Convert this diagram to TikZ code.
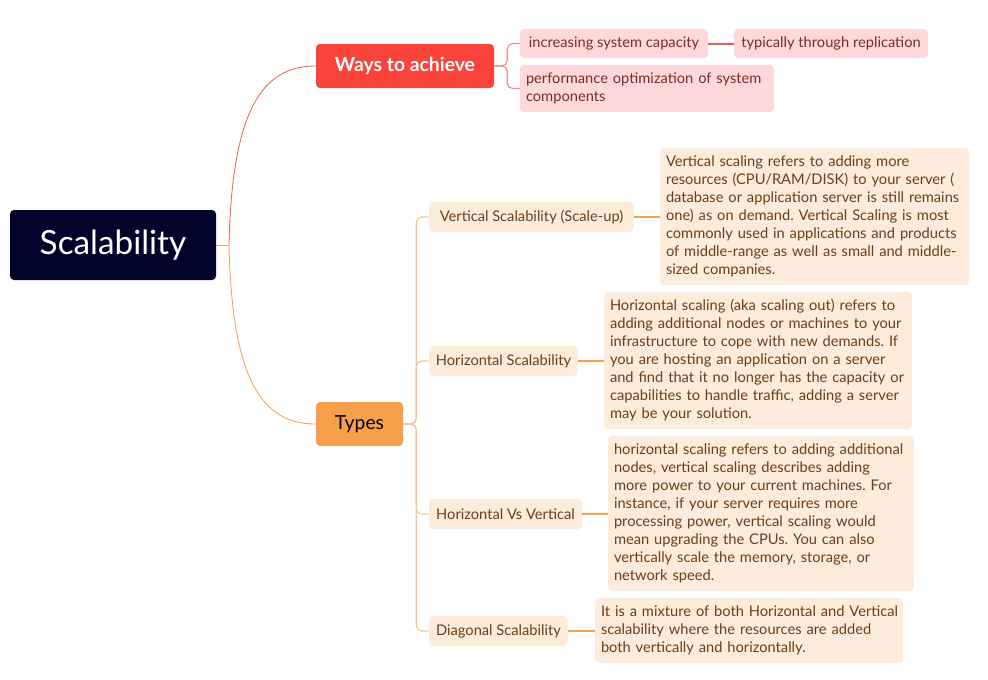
\documentclass[tikz,border=0pt]{standalone}
\usepackage{fontspec}
\setmainfont{Lato}
\usetikzlibrary{positioning}
\frenchspacing
\definecolor{scalNavy}{HTML}{02032B}
\definecolor{waysRed}{HTML}{F9433B}
\definecolor{typesOrange}{HTML}{F6A04B}
\definecolor{leafPink}{HTML}{FFD9D9}
\definecolor{pinkText}{HTML}{7A2B2B}
\definecolor{leafPeach}{HTML}{FDEBDC}
\definecolor{peachText}{HTML}{6B3F17}
\definecolor{redLine}{HTML}{F25B55}
\definecolor{orangeLine}{HTML}{F6A04B}
\definecolor{paleOrange}{HTML}{F9C48F}
\definecolor{paleRed}{HTML}{F58A86}
\tikzset{
    box/.style={rounded corners=3pt, inner sep=0pt, align=center},
    rootbox/.style={box, fill=scalNavy, text=white, font=\fontsize{25}{30}\selectfont},
    waysbox/.style={box, fill=waysRed, text=white, font=\fontsize{14.5}{17}\selectfont\bfseries},
    typebox/.style={box, fill=typesOrange, text=black, font=\fontsize{14.5}{17}\selectfont},
    pinkleaf/.style={box, fill=leafPink, text=pinkText, font=\fontsize{11}{13.5}\selectfont},
    peachleaf/.style={box, fill=leafPeach, text=peachText, font=\fontsize{11}{13.5}\selectfont},
    notebox/.style={peachleaf, align=left, inner xsep=4.5pt},
    redcurve/.style={draw=redLine, line width=0.6pt},
    orangecurve/.style={draw=orangeLine, line width=0.6pt},
    redbranch/.style={draw=paleRed, line width=0.8pt, rounded corners=4pt},
    orangebranch/.style={draw=paleOrange, line width=0.8pt, rounded corners=4pt},
    redlink/.style={draw=redLine, line width=1.5pt},
    orangelink/.style={draw=orangeLine, line width=1.5pt}
}
% name, x, y, width, height, text width, lines
\newcommand{\noteNode}[7]{%
    \node[notebox, minimum width=#4pt, minimum height=#5pt, text width=#6pt] (#1) at (#2,#3) {\begin{tabular}{@{}l@{}}#7\end{tabular}};
}

\begin{document}
\begin{tikzpicture}[x=0.75pt,y=-0.75pt]
    \useasboundingbox (0,0) rectangle (988,679);
    %topics
    \node[rootbox, minimum width=154.5pt, minimum height=52.5pt] (scal) at (113,245) {Scalability};
    \node[waysbox, minimum width=133.5pt, minimum height=33pt] (ways) at (405,66) {Ways to achieve};
    \node[typebox, minimum width=65.25pt, minimum height=33pt] (types) at (359.5,424) {Types};
    %ways
    \node[pinkleaf, minimum width=141pt, minimum height=21.75pt] (incr) at (614,43.5) {increasing system capacity};
    \node[pinkleaf, minimum width=145.5pt, minimum height=21.75pt] (repl) at (831,43.5) {typically through replication};
    \node[pinkleaf, align=left, inner xsep=4.5pt, minimum width=190.5pt, minimum height=35.25pt, text width=181.5pt] (perf) at (647,88.5) {performance optimization of system\\components};
    %types
    \node[peachleaf, minimum width=153.75pt, minimum height=22.5pt] (vert) at (531.5,217) {Vertical Scalability (Scale-up)};
    \node[peachleaf, minimum width=111.75pt, minimum height=22.5pt] (horz) at (503.5,361) {Horizontal Scalability};
    \node[peachleaf, minimum width=114.75pt, minimum height=22.5pt] (hvv) at (505.5,514) {Horizontal Vs Vertical};
    \node[peachleaf, minimum width=104.25pt, minimum height=22.5pt] (diag) at (498.5,631) {Diagonal Scalability};
    %notes
    \noteNode{vertD}{814.5}{216.5}{231.75}{102.75}{222.75}{Vertical scaling refers to adding more\\resources (CPU/RAM/DISK) to your server (\\database or application server is still remains\\one) as on demand. Vertical Scaling is most\\commonly used in applications and products\\of middle-range as well as small and middle-\\sized companies.}
    \noteNode{horzD}{758}{360.5}{231}{102.75}{222}{Horizontal scaling (aka scaling out) refers to\\adding additional nodes or machines to your\\infrastructure to cope with new demands. If\\you are hosting an application on a server\\and find that it no longer has the capacity or\\capabilities to handle traffic, adding a server\\may be your solution.}
    \noteNode{hvvD}{761}{513.5}{229.5}{116.25}{220.5}{horizontal scaling refers to adding additional\\nodes, vertical scaling describes adding\\more power to your current machines. For\\instance, if your server requires more\\processing power, vertical scaling would\\mean upgrading the CPUs. You can also\\vertically scale the memory, storage, or\\network speed.}
    \noteNode{diagD}{749}{630.5}{231}{48.75}{222}{It is a mixture of both Horizontal and Vertical\\scalability where the resources are added\\both vertically and horizontally.}
    %E root
    \coordinate (hub) at (229,245);
    \draw[orangecurve] (scal.east) -- (hub);
    \draw[redcurve] (hub) .. controls (232,110) and (262,66) .. (ways.west);
    \draw[orangecurve] (hub) .. controls (232,380) and (262,424) .. (types.west);
    %E ways
    \draw[redbranch] (ways.east) -- ++(13,0) |- (incr.west);
    \draw[redbranch] (ways.east) -- ++(13,0) |- (perf.west);
    \draw[redlink] (incr.east) -- (repl.west);
    %E types
    \draw[orangebranch] (types.east) -- ++(13,0) |- (vert.west);
    \draw[orangebranch] (types.east) -- ++(13,0) |- (horz.west);
    \draw[orangebranch] (types.east) -- ++(13,0) |- (hvv.west);
    \draw[orangebranch] (types.east) -- ++(13,0) |- (diag.west);
    \draw[orangelink] (vert.east) -- (vert.east -| vertD.west);
    \draw[orangelink] (horz.east) -- (horz.east -| horzD.west);
    \draw[orangelink] (hvv.east) -- (hvv.east -| hvvD.west);
    \draw[orangelink] (diag.east) -- (diag.east -| diagD.west);
\end{tikzpicture}
\end{document}
